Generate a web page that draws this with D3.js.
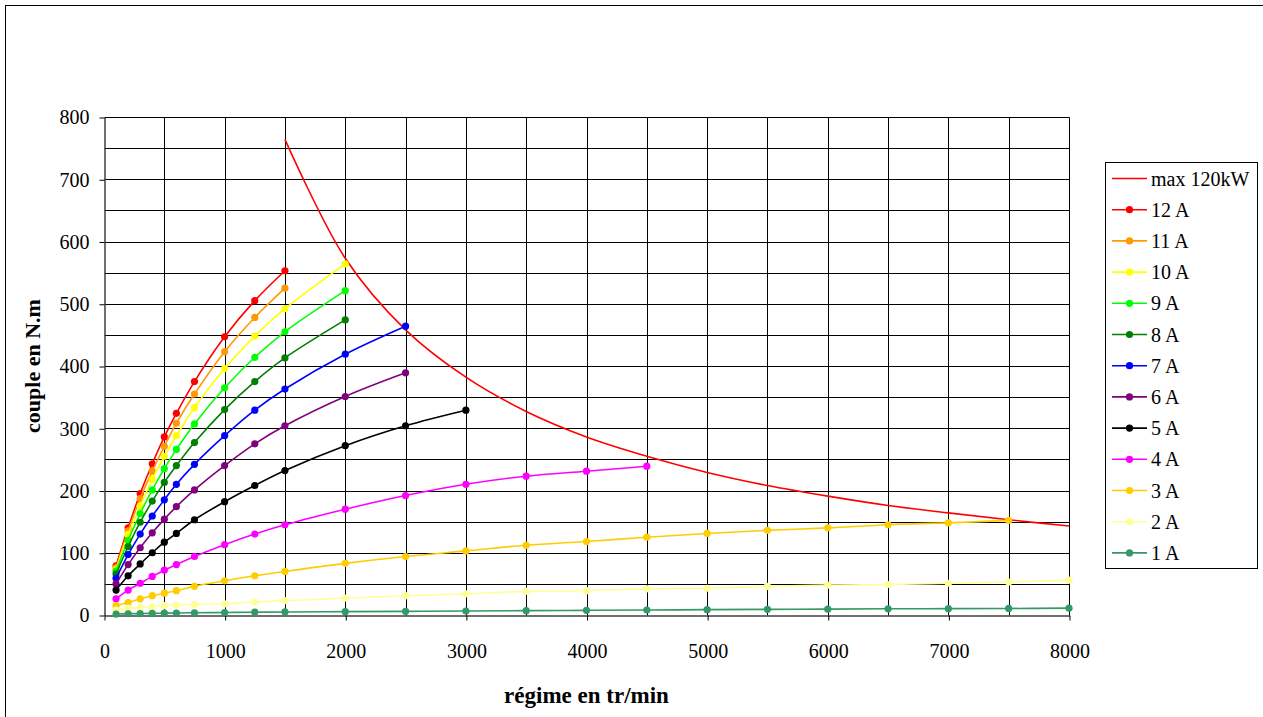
<!DOCTYPE html>
<html><head><meta charset="utf-8">
<script src="https://cdn.jsdelivr.net/npm/d3@7"></script>
<style>body{margin:0;background:#fff}svg{display:block}text{font-family:"Liberation Serif","Times New Roman",serif}</style>
</head><body>
<script>
const speeds = [100,200,300,400,500,600,750,1000,1250,1500,2000,2500,3000,3500,4000,4500,5000,5500,6000,6500,7000,7500,8000];
const maxSpeeds = [1500,2000,2500,3000,3500,4000,4500,5000,5500,6000,6500,7000,7500,8000];
const maxTorque = [764,573,458,382,327,286,255,229,208,191,176,164,153,143];
const a12 = [79,140,195,243,286,324,375,447,505,553];
const a11 = [76,135,187,231,271,308,355,423,478,525];
const a10 = [73,129,175,218,255,288,333,396,448,492,564];
const a9  = [71,120,163,201,235,266,307,365,414,455,521];
const a8  = [66,110,149,183,213,240,277,330,375,413,474];
const a7  = [59,97,130,159,185,210,242,288,329,363,419,464];
const a6  = [50,81,108,132,154,174,201,240,275,304,351,389];
const a5  = [40,63,82,100,117,131,153,182,208,232,272,304,329];
const a4  = [26,40,51,62,72,81,94,113,130,145,170,192,210,223,231,239];
const a3  = [15,20,26,31,35,39,46,55,63,70,83,94,103,112,118,125,131,136,140,145,148,152];
const a2  = [8,11,12,13,15,16,17,18,21,23,27,31,34,38,39,42,43,46,48,49,51,53,56];
const a1  = [1.5,2,2.3,2.6,2.9,3.1,3.5,4,4.5,4.9,5.4,5.9,6.4,7,7.5,8,8.6,9.1,9.4,10,10.2,10.5,11];
const seriesNames = ["12 A","11 A","10 A","9 A","8 A","7 A","6 A","5 A","4 A","3 A","2 A","1 A"];
const seriesValues = [a12,a11,a10,a9,a8,a7,a6,a5,a4,a3,a2,a1];
const seriesColors = ["#FF0000","#FF9900","#FFFF00","#00FF00","#008000","#0000FF","#800080","#000000","#FF00FF","#FFCC00","#FFFF99","#339966"];
const xTicks = [0,1000,2000,3000,4000,5000,6000,7000,8000];
const yTicks = [0,100,200,300,400,500,600,700,800];

const W = 1263, H = 717;
const svg = d3.select("body").append("svg").attr("width", W).attr("height", H);
svg.append("rect").attr("x",5.5).attr("y",5.5).attr("width",1300).attr("height",800)
  .attr("fill","#fff").attr("stroke","#000").attr("stroke-width",1);

const x = d3.scaleLinear().domain([0,8000]).range([104,1069]);
const y = d3.scaleLinear().domain([0,800]).range([615,117]);
const px = v => Math.round(x(v)) + 0.5, py = v => Math.round(y(v)) + 0.5;

const grid = svg.append("g").attr("stroke","#000").attr("stroke-width",1);
d3.range(500,8001,500).forEach(v => grid.append("line").attr("x1",px(v)).attr("x2",px(v)).attr("y1",py(800)).attr("y2",py(0)));
d3.range(50,801,50).forEach(v => grid.append("line").attr("x1",px(0)).attr("x2",px(8000)).attr("y1",py(v)).attr("y2",py(v)));

const yAxis = svg.append("g")
  .call(d3.axisLeft(y).tickValues(yTicks).tickFormat(d3.format("d")).tickSize(5).tickSizeOuter(0).tickPadding(10));
const xAxis = svg.append("g").attr("transform",`translate(0.5,${Math.round(y(0))+0.5})`)
  .call(d3.axisBottom(x).tickValues(xTicks).tickFormat(d3.format("d")).tickSize(5).tickSizeOuter(0).tickPadding(23));
yAxis.attr("transform",`translate(${Math.round(x(0))+0.5},0.5)`);
[yAxis,xAxis].forEach(a => {
  a.selectAll("path").attr("stroke","#404040").attr("stroke-width",1.5);
  a.selectAll("line").attr("stroke","#000");
  a.selectAll("text").attr("font-size","20px").attr("fill","#000")
   .style("font-family",'"Liberation Serif","Times New Roman",serif');
});

const line = d3.line().x(d => x(d[0])).y(d => y(d[1])).curve(d3.curveCatmullRom.alpha(0.5));
const plot = svg.append("g");

plot.append("path").datum(maxSpeeds.map((s,i)=>[s,maxTorque[i]]))
  .attr("d", line).attr("fill","none").attr("stroke","#FF0000").attr("stroke-width",1.6);

seriesValues.forEach((vals,k) => {
  const pts = vals.map((v,i)=>[speeds[i],v]);
  const g = plot.append("g");
  g.append("path").datum(pts).attr("d", line).attr("fill","none")
    .attr("stroke", seriesColors[k]).attr("stroke-width",1.6);
  g.selectAll("circle").data(pts).join("circle")
    .attr("cx", d=>x(d[0])).attr("cy", d=>y(d[1])).attr("r",3.6).attr("fill",seriesColors[k]);
});

svg.append("text").attr("x",586.5).attr("y",703).attr("text-anchor","middle")
  .attr("font-size","23px").attr("font-weight","bold").text("régime en tr/min");
svg.append("text").attr("transform","translate(40,366) rotate(-90)").attr("text-anchor","middle")
  .attr("font-size","22px").attr("font-weight","bold").text("couple en N.m");

// legend
const lg = svg.append("g");
lg.append("rect").attr("x",1105.5).attr("y",162.5).attr("width",152).attr("height",406)
  .attr("fill","#fff").attr("stroke","#000");
const legendNames = ["max 120kW"].concat(seriesNames);
const legendColors = ["#FF0000"].concat(seriesColors);
legendNames.forEach((n,i) => {
  const cy = 178.5 + i*31.2;
  lg.append("line").attr("x1",1112).attr("x2",1147).attr("y1",cy).attr("y2",cy)
    .attr("stroke",legendColors[i]).attr("stroke-width",1.6);
  if (i>0) lg.append("circle").attr("cx",1129.5).attr("cy",cy).attr("r",3.6).attr("fill",legendColors[i]);
  lg.append("text").attr("x",1151).attr("y",cy).attr("dy","0.35em").attr("font-size","20px").text(n);
});
</script>
</body></html>
